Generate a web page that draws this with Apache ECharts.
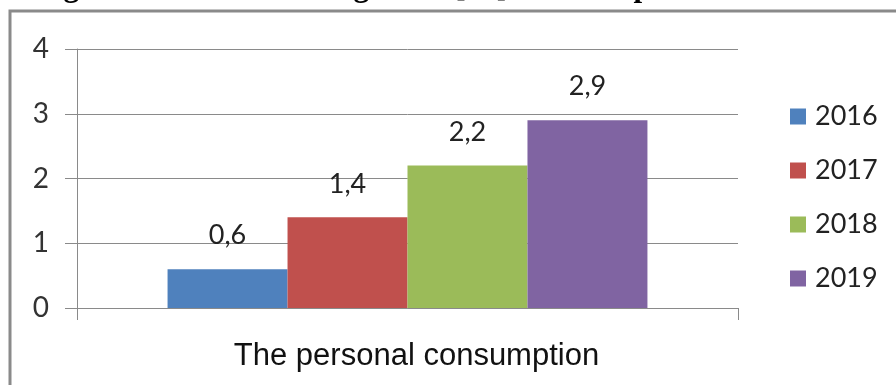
<!DOCTYPE html>
<html>
<head>
<meta charset="utf-8">
<script src="https://cdn.jsdelivr.net/npm/echarts@6/dist/echarts.min.js"></script>
<style>
  html, body { margin: 0; padding: 0; background: #ffffff; }
  #chart { width: 896px; height: 385px; }
</style>
</head>
<body>
<div id="chart"></div>
<script>
// Growth of personal consumption, by year (%)
const categories = ['The personal consumption'];
const years = ['2016', '2017', '2018', '2019'];
const growth2016 = [0.6];
const growth2017 = [1.4];
const growth2018 = [2.2];
const growth2019 = [2.9];
const yTicks = [0, 1, 2, 3, 4];

const seriesValues = [growth2016, growth2017, growth2018, growth2019];
const colors = ['#4f81bd', '#c0504d', '#9bbb59', '#8064a2'];

const chart = echarts.init(document.getElementById('chart'), null, { renderer: 'canvas' });

const labelFont = 'Lato, "Open Sans", sans-serif';

const series = years.map((y, i) => ({
  name: y,
  type: 'bar',
  data: seriesValues[i],
  barGap: '0%',
  barCategoryGap: '27.4%',
  itemStyle: { color: colors[i] },
  label: {
    show: true,
    position: 'top',
    distance: 20,
    fontFamily: labelFont,
    fontSize: 27,
    color: '#222',
    formatter: p => String(p.value).replace('.', ',')
  }
}));

chart.setOption({
  backgroundColor: '#ffffff',
  animation: false,
  graphic: [
    {
      type: 'text',
      left: 36,
      top: -28,
      style: {
        text: 'Figure 4. The real GDP growth [%] of the Republic of Serbia',
        font: 'bold 31px "Liberation Serif", "DejaVu Serif", serif',
        fill: '#000'
      },
      z: 10
    },
    {
      type: 'rect',
      shape: { x: 10, y: 11, width: 900, height: 400 },
      style: { fill: 'none', stroke: '#8a8a8a', lineWidth: 3 },
      z: -1
    }
  ],
  grid: { left: 77, right: 158, top: 49, bottom: 77 },
  legend: {
    orient: 'vertical',
    left: 785,
    top: 98,
    itemWidth: 16,
    itemHeight: 16,
    itemGap: 27,
    icon: 'rect',
    data: years,
    textStyle: {
      fontFamily: labelFont,
      fontSize: 27,
      color: '#222',
      padding: [0, 0, 0, 4]
    }
  },
  xAxis: {
    type: 'category',
    data: categories,
    axisLine: { show: true, lineStyle: { color: '#8a8a8a', width: 1 } },
    axisTick: { show: true, length: 12, alignWithLabel: false, lineStyle: { color: '#8a8a8a' } },
    axisLabel: {
      fontFamily: '"Liberation Sans", Arial, sans-serif',
      fontSize: 31,
      color: '#111',
      margin: 33,
      padding: [0, 0, 0, 18]
    }
  },
  yAxis: {
    type: 'value',
    min: yTicks[0],
    max: yTicks[yTicks.length - 1],
    interval: 1,
    axisLine: { show: true, lineStyle: { color: '#8a8a8a', width: 1 } },
    axisTick: { show: true, length: 12, lineStyle: { color: '#8a8a8a' } },
    splitLine: { show: true, lineStyle: { color: '#8a8a8a', width: 1 } },
    axisLabel: {
      fontFamily: labelFont,
      fontSize: 28,
      color: '#333',
      margin: 28
    }
  },
  series: series
});
</script>
</body>
</html>
